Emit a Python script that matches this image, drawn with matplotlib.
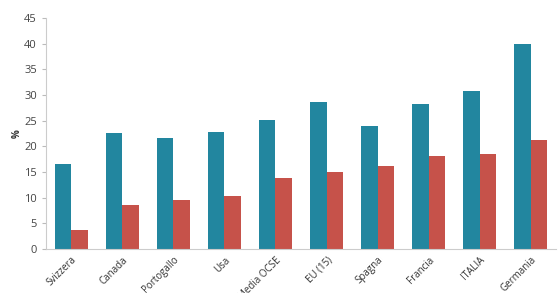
import numpy as np
import matplotlib.pyplot as plt

# Data
countries = ['Svizzera', 'Canada', 'Portogallo', 'Usa', 'Media OCSE',
             'EU (15)', 'Spagna', 'Francia', 'ITALIA', 'Germania']
serie_a = [16.5, 22.6, 21.7, 22.7, 25.1, 28.7, 23.9, 28.3, 30.8, 39.9]
serie_b = [3.8, 8.5, 9.6, 10.4, 13.8, 15.0, 16.1, 18.1, 18.5, 21.2]

plt.rcParams['font.family'] = ['Open Sans', 'DejaVu Sans']

fig = plt.figure(figsize=(5.6, 2.93), dpi=100)
ax = fig.add_axes([0.082, 0.15, 0.911, 0.789])

x = np.arange(len(countries))
w = 0.33
ax.bar(x - w / 2, serie_a, width=w, color='#22869f')
ax.bar(x + w / 2, serie_b, width=w, color='#c6524a')

ax.set_xlim(-0.5, len(countries) - 0.5)
ax.set_ylim(0, 45)
ax.set_yticks(range(0, 46, 5))
ax.set_xticks(x)
ax.set_xticklabels(countries, rotation=45, ha='right', rotation_mode='anchor',
                   fontsize=7, color='#333333')
ax.tick_params(axis='x', length=0, pad=4)
ax.tick_params(axis='y', labelsize=8, colors='#444444', length=3, color='#bbbbbb')
ax.set_ylabel('%', fontsize=7, fontweight='bold', color='#333333', labelpad=1)

for s in ['top', 'right']:
    ax.spines[s].set_visible(False)
ax.spines['left'].set_color('#cccccc')
ax.spines['bottom'].set_color('#cccccc')

fig.savefig('out.png', dpi=100)
